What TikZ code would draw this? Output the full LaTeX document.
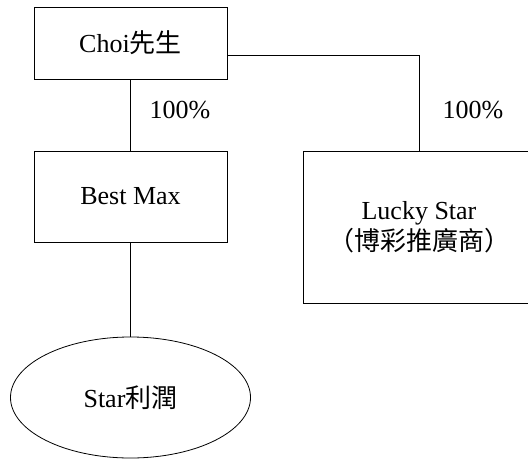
\documentclass[tikz,border=0pt]{standalone}
\usepackage{fontspec}
\setmainfont{Liberation Serif}
\newfontfamily\cjk{Noto Sans CJK TC}
\usetikzlibrary{shapes.geometric}
\tikzset{
  box/.style={draw=black, line width=0.8pt, rectangle, inner sep=0pt, align=center},
  oval/.style={draw=black, line width=0.8pt, ellipse, inner sep=0pt, align=center},
  link/.style={draw=black, line width=0.8pt},
  pct/.style={inner sep=0pt}
}
\begin{document}
\begin{tikzpicture}[x=1pt,y=-1pt,font=\fontsize{26}{31}\selectfont]
\useasboundingbox (0,0) rectangle (528,461);
\clip (0,0) rectangle (528,461);
\node[box, minimum width=193pt, minimum height=72pt] (choi) at (130.5,43) {Choi{\cjk 先生}};
\node[box, minimum width=193pt, minimum height=91pt] (best) at (130.5,196.5) {Best Max};
\node[box, minimum width=232pt, minimum height=152pt] (lucky) at (419,227) {Lucky Star\\{\cjk （博彩推廣商）}};
\node[oval, minimum width=240pt, minimum height=121pt] (star) at (130.5,397.5) {Star{\cjk 利潤}};
\node[pct] (p1) at (180,110) {100\%};
\node[pct] (p2) at (473,110) {100\%};
\draw[link] (choi.south) -- (best.north);
\draw[link] (best.south) -- (star.north);
\draw[link] ([yshift=-12pt]choi.east) -| (lucky.north);
\end{tikzpicture}
\end{document}
